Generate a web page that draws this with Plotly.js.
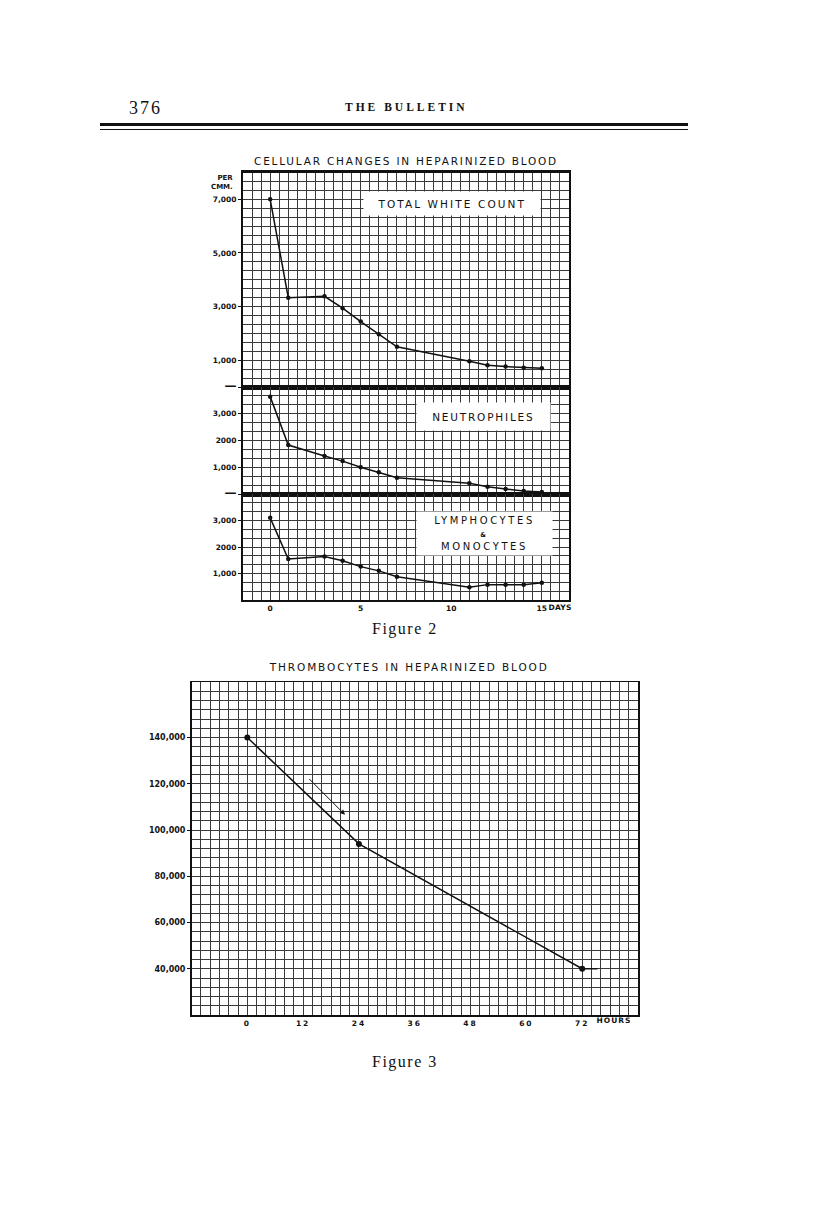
<!DOCTYPE html>
<html>
<head>
<meta charset="utf-8">
<script src="https://cdn.plot.ly/plotly-3.0.1.min.js"></script>
<style>
  html, body { margin: 0; padding: 0; background: #fff; }
  #chart { width: 816px; height: 1224px; }
  .gtitle { letter-spacing: 1.8px; }
  g.annotation[data-index="0"] text { letter-spacing: 2px; }
  g.annotation[data-index="1"] text { letter-spacing: 3px; }
  g.annotation[data-index="3"] text { letter-spacing: 2.1px; }
  g.annotation[data-index="4"] text { letter-spacing: 1.8px; }
  g.annotation[data-index="5"] text { letter-spacing: 2.6px; }
  g.annotation[data-index="6"] text { letter-spacing: 0.3px; }
  g.annotation[data-index="7"] text { letter-spacing: 1.5px; }
  g.annotation[data-index="8"] text { letter-spacing: 1.9px; }
  g.annotation[data-index="9"] text { letter-spacing: 1px; }
  g.annotation[data-index="10"] text { letter-spacing: 1.5px; }
  g.x4tick text { letter-spacing: 2px; }
</style>
</head>
<body>
<div id="chart"></div>
<script>
// ---------------- DATA ----------------
// Figure 2: cellular changes (per cmm) by day
const days = [0, 1, 3, 4, 5, 6, 7, 11, 12, 13, 14, 15];
const totalWhite = [7000, 3330, 3380, 2940, 2440, 1970, 1500, 960, 810, 760, 720, 700];
const neutrophiles = [3640, 1830, 1420, 1230, 1000, 810, 610, 400, 270, 190, 110, 75];
const lymphoMono = [3100, 1550, 1640, 1480, 1260, 1100, 880, 480, 580, 580, 580, 650];

const dayTicks = [0, 5, 10, 15];
const dayTickText = ['0', '5', '10', '15'];
const DASH = '<span style="font-size:12px">—</span>';
const whiteTicks = [0, 1000, 3000, 5000, 7000];
const whiteTickText = [DASH, '1,000', '3,000', '5,000', '7,000'];
const neutroTicks = [0, 1000, 2000, 3000];
const neutroTickText = [DASH, '1,000', '2000', '3,000'];
const lymphTicks = [1000, 2000, 3000];
const lymphTickText = ['1,000', '2000', '3,000'];

// Figure 3: thrombocytes by hour
const hours = [0, 24, 72];
const thrombocytes = [140000, 94000, 40000];
const thromboTailX = [72, 75.3];
const thromboTailY = [40000, 40000];
const arrowStart = [13, 122700];
const arrowEnd = [21, 106600];

const hourTicks = [0, 12, 24, 36, 48, 60, 72];
const hourTickText = ['0', '12', '24', '36', '48', '60', '72'];
const thromboTicks = [40000, 60000, 80000, 100000, 120000, 140000];
const thromboTickText = ['40,000', '60,000', '80,000', '100,000', '120,000', '140,000'];

// ---------------- LAYOUT HELPERS ----------------
const W = 816, H = 1224;
const px = v => v / W;
const py = v => 1 - v / H;
const SANS = 'DejaVu Sans';
const SERIF = 'Liberation Serif';
const INK = '#111';
const GRID = '#3a3a3a';
const TICKFONT = { family: SANS, size: 7.5, color: INK, weight: 'bold' };

function gridAxis(extra) {
  return Object.assign({
    showgrid: true, gridcolor: GRID, gridwidth: 1,
    zeroline: false, showline: true, linecolor: INK, mirror: true,
    ticks: '', fixedrange: true,
    tickfont: TICKFONT
  }, extra);
}

const line2 = { color: INK, width: 1.5 };
const mark2 = { color: INK, size: 4.5 };

const traces = [
  { x: days, y: totalWhite, xaxis: 'x', yaxis: 'y', mode: 'lines+markers', line: line2, marker: mark2, name: 'Total white count' },
  { x: days, y: neutrophiles, xaxis: 'x2', yaxis: 'y2', mode: 'lines+markers', line: line2, marker: mark2, name: 'Neutrophiles' },
  { x: days, y: lymphoMono, xaxis: 'x3', yaxis: 'y3', mode: 'lines+markers', line: line2, marker: mark2, name: 'Lymphocytes & Monocytes' },
  { x: hours, y: thrombocytes, xaxis: 'x4', yaxis: 'y4', mode: 'lines+markers', line: { color: INK, width: 1.5 }, marker: { color: INK, size: 6 }, name: 'Thrombocytes' },
  { x: thromboTailX, y: thromboTailY, xaxis: 'x4', yaxis: 'y4', mode: 'lines', line: { color: INK, width: 1.5 }, name: 'tail' }
];

const fig2X = [px(243), px(569)];
const dayRange = [-1.5, 16.5];
const dayMinor = { dtick: 0.5, tick0: 0, showgrid: true, gridcolor: GRID, gridwidth: 1 };
const cellMinor = { dtick: 1000 / 3, tick0: 0, showgrid: true, gridcolor: GRID, gridwidth: 1 };
const yTicks = { ticks: 'outside', ticklen: 3, tickcolor: INK, tickwidth: 1 };

const layout = {
  width: W, height: H,
  margin: { l: 0, r: 0, t: 0, b: 0 },
  paper_bgcolor: '#fff', plot_bgcolor: '#fff',
  showlegend: false,
  title: {
    text: 'CELLULAR CHANGES IN HEPARINIZED BLOOD',
    x: px(406), xref: 'paper', xanchor: 'center',
    y: py(161), yref: 'paper', yanchor: 'middle',
    font: { family: SANS, size: 10.5, color: INK }
  },
  // Figure 2 top panel
  xaxis: gridAxis({ domain: fig2X, anchor: 'y', range: dayRange, tickvals: dayTicks, showticklabels: false, minor: dayMinor, linewidth: 2.5 }),
  yaxis: gridAxis(Object.assign({ domain: [py(387), py(172.5)], anchor: 'x', range: [0, 8000], tickvals: whiteTicks, ticktext: whiteTickText, minor: cellMinor, linewidth: 2 }, yTicks)),
  // middle panel
  xaxis2: gridAxis({ domain: fig2X, anchor: 'y2', range: dayRange, tickvals: dayTicks, showticklabels: false, minor: dayMinor, linewidth: 2.5 }),
  yaxis2: gridAxis(Object.assign({ domain: [py(494), py(387)], anchor: 'x2', range: [0, 4000], tickvals: neutroTicks, ticktext: neutroTickText, minor: cellMinor, linewidth: 2 }, yTicks)),
  // bottom panel
  xaxis3: gridAxis({ domain: fig2X, anchor: 'y3', range: dayRange, tickvals: dayTicks, ticktext: dayTickText, minor: dayMinor, linewidth: 2 }),
  yaxis3: gridAxis(Object.assign({ domain: [py(600), py(494)], anchor: 'x3', range: [0, 4000], tickvals: lymphTicks, ticktext: lymphTickText, minor: cellMinor, linewidth: 2 }, yTicks)),
  // Figure 3
  xaxis4: gridAxis({ domain: [px(191.5), px(638)], anchor: 'y4', range: [-12, 84], tickvals: hourTicks, ticktext: hourTickText, minor: { dtick: 2, tick0: 0, showgrid: true, gridcolor: GRID, gridwidth: 1 }, linewidth: 1.5 }),
  yaxis4: gridAxis(Object.assign({ domain: [py(1015), py(682)], anchor: 'x4', range: [20000, 164000], tickvals: thromboTicks, ticktext: thromboTickText, minor: { dtick: 4000, tick0: 0, showgrid: true, gridcolor: GRID, gridwidth: 1 }, linewidth: 1.5, tickfont: { family: SANS, size: 8, color: INK, weight: 'bold' } }, yTicks)),
  shapes: [
    { type: 'line', xref: 'paper', yref: 'paper', x0: px(100), x1: px(688), y0: py(124.5), y1: py(124.5), line: { color: INK, width: 3 } },
    { type: 'line', xref: 'paper', yref: 'paper', x0: px(100), x1: px(688), y0: py(129.5), y1: py(129.5), line: { color: INK, width: 1 } }
  ],
  annotations: [
    // 0 page number
    { text: '376', xref: 'paper', yref: 'paper', x: px(145), y: py(108), xanchor: 'center', yanchor: 'middle', showarrow: false, font: { family: SERIF, size: 18, color: INK } },
    // 1 running head
    { text: '<b>THE BULLETIN</b>', xref: 'paper', yref: 'paper', x: px(406), y: py(107), xanchor: 'center', yanchor: 'middle', showarrow: false, font: { family: SERIF, size: 11.5, color: INK } },
    // 2 per cmm
    { text: '<b>PER<br>CMM.</b>', xref: 'paper', yref: 'paper', x: px(235), y: py(182), xanchor: 'right', yanchor: 'middle', align: 'right', showarrow: false, font: { family: SANS, size: 7, color: INK } },
    // 3 total white count
    { text: 'TOTAL WHITE COUNT', xref: 'paper', yref: 'paper', x: px(451.5), y: py(204), xanchor: 'center', yanchor: 'middle', showarrow: false, bgcolor: '#fff', width: 174, height: 21, borderpad: 1, font: { family: SANS, size: 10.5, color: INK } },
    // 4 neutrophiles
    { text: 'NEUTROPHILES', xref: 'paper', yref: 'paper', x: px(483.5), y: py(416.7), xanchor: 'center', yanchor: 'middle', showarrow: false, bgcolor: '#fff', width: 131, height: 25, borderpad: 1, font: { family: SANS, size: 10.5, color: INK } },
    // 5 lymphocytes & monocytes
    { text: 'LYMPHOCYTES<br><b><span style="font-size:6.5px">&amp;</span></b><br>MONOCYTES', xref: 'paper', yref: 'paper', x: px(484), y: py(533.3), xanchor: 'center', yanchor: 'middle', showarrow: false, bgcolor: '#fff', width: 133, height: 41, borderpad: 1, font: { family: SANS, size: 10, color: INK } },
    // 6 days unit
    { text: 'DAYS', xref: 'paper', yref: 'paper', x: px(559.5), y: py(607.5), xanchor: 'center', yanchor: 'middle', showarrow: false, font: { family: SANS, size: 7.5, color: INK, weight: 'bold' } },
    // 7 Figure 2
    { text: 'Figure 2', xref: 'paper', yref: 'paper', x: px(405), y: py(629), xanchor: 'center', yanchor: 'middle', showarrow: false, font: { family: SERIF, size: 16, color: INK } },
    // 8 fig 3 title
    { text: 'THROMBOCYTES IN HEPARINIZED BLOOD', xref: 'paper', yref: 'paper', x: px(408), y: py(667.5), xanchor: 'center', yanchor: 'middle', showarrow: false, font: { family: SANS, size: 10.5, color: INK } },
    // 9 hours unit
    { text: 'HOURS', xref: 'paper', yref: 'paper', x: px(614), y: py(1020), xanchor: 'center', yanchor: 'middle', showarrow: false, font: { family: SANS, size: 7.5, color: INK, weight: 'bold' } },
    // 10 Figure 3
    { text: 'Figure 3', xref: 'paper', yref: 'paper', x: px(405), y: py(1062), xanchor: 'center', yanchor: 'middle', showarrow: false, font: { family: SERIF, size: 16, color: INK } },
    // 11 arrow
    { text: '', xref: 'x4', yref: 'y4', x: arrowEnd[0], y: arrowEnd[1], axref: 'x4', ayref: 'y4', ax: arrowStart[0], ay: arrowStart[1], showarrow: true, arrowhead: 2, arrowsize: 1, arrowwidth: 1, arrowcolor: INK }
  ]
};

Plotly.newPlot('chart', traces, layout, { displayModeBar: false, staticPlot: true });
</script>
</body>
</html>
